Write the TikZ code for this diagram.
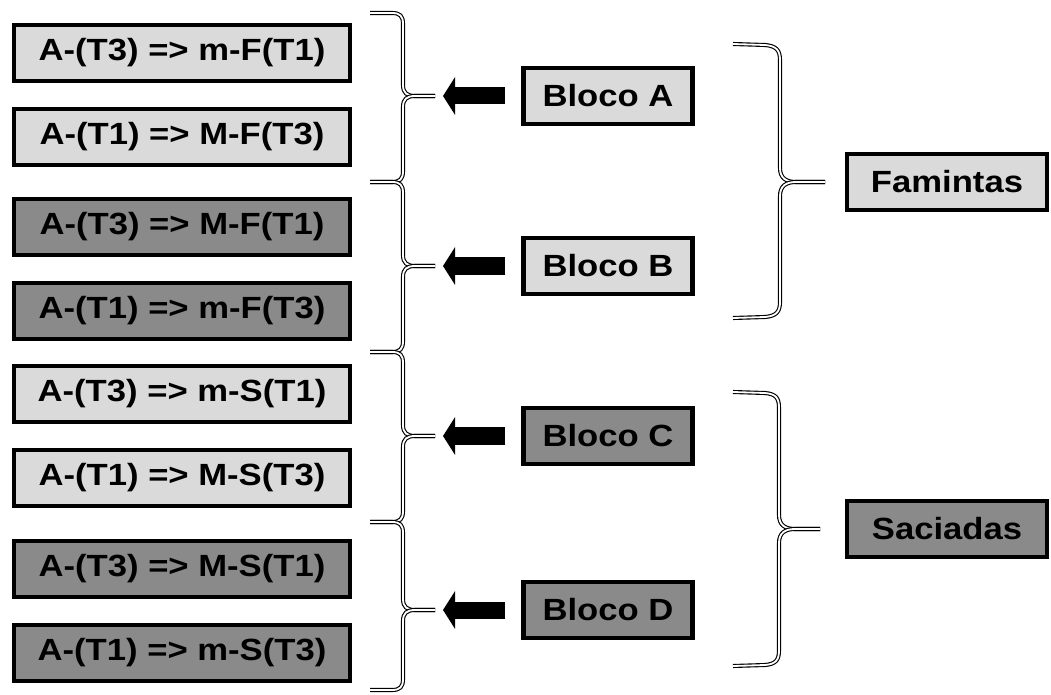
\documentclass[tikz,border=0pt]{standalone}
\usepackage{fontspec}
\setmainfont{Liberation Sans}[FakeStretch=1.13]
\usetikzlibrary{arrows.meta}
\definecolor{clara}{RGB}{218,218,218}
\definecolor{escura}{RGB}{138,138,138}
\begin{document}
\begin{tikzpicture}[x=0.025cm, y=-0.025cm, node distance={2.1cm}]
            \tikzstyle{caixa} = [draw=black, line width=2.9pt, inner sep=0pt, minimum height=1.4cm, font=\fontsize{21.8pt}{26pt}\selectfont\bfseries]
            \tikzstyle{cond} = [caixa, minimum width=8.4cm]
            \tikzstyle{bloco} = [caixa, minimum width=4.225cm]
            \tikzstyle{grupo} = [caixa, minimum width=5cm]
            \tikzstyle{chave} = [draw=black, line width=0.8pt, double=white, double distance=1.3pt]
            \tikzstyle{seta} = [line width=0.425cm, -{Triangle[length=0.3cm, width=0.93cm]}, shorten <=0.4cm, shorten >=0.2cm]

            \useasboundingbox (0,0) rectangle (1051,695);

            \node[cond, fill=clara] (c1) at (182,53) {A-(T3) => m-F(T1)};
            \node[cond, fill=clara] (c2) [below of = c1] {A-(T1) => M-F(T3)};
            \node[cond, fill=escura] (c3) at (182,227) {A-(T3) => M-F(T1)};
            \node[cond, fill=escura] (c4) [below of = c3] {A-(T1) => m-F(T3)};
            \node[cond, fill=clara] (c5) at (182,394) {A-(T3) => m-S(T1)};
            \node[cond, fill=clara] (c6) [below of = c5] {A-(T1) => M-S(T3)};
            \node[cond, fill=escura] (c7) at (182,569) {A-(T3) => M-S(T1)};
            \node[cond, fill=escura] (c8) [below of = c7] {A-(T1) => m-S(T3)};

            \node[bloco, fill=clara] (ba) at (608,96) {Bloco A};
            \node[bloco, fill=clara] (bb) at (608,266) {Bloco B};
            \node[bloco, fill=escura] (bc) at (608,436) {Bloco C};
            \node[bloco, fill=escura] (bd) at (608,610) {Bloco D};

            \node[grupo, fill=clara] (fam) at (947,182) {Famintas};
            \node[grupo, fill=escura] (sac) at (947,529) {Saciadas};

            % pontas das chaves
            \coordinate (pa) at (435,96);
            \coordinate (pb) at (435,266);
            \coordinate (pc) at (435,436);
            \coordinate (pd) at (435,610);

            % chaves da esquerda
            \draw[chave] (370,13) -- (392,13) .. controls (400,13) and (403,16) .. (403,24) -- (403,85) .. controls (403,93) and (407,96) .. (415,96) -- (pa);
            \draw[chave] (370,182) -- (392,182) .. controls (400,182) and (403,179) .. (403,171) -- (403,107) .. controls (403,99) and (407,96) .. (415,96) -- (pa);
            \draw[chave] (370,182) -- (392,182) .. controls (400,182) and (403,185) .. (403,193) -- (403,255) .. controls (403,263) and (407,266) .. (415,266) -- (pb);
            \draw[chave] (370,352) -- (392,352) .. controls (400,352) and (403,349) .. (403,341) -- (403,277) .. controls (403,269) and (407,266) .. (415,266) -- (pb);
            \draw[chave] (370,352) -- (392,352) .. controls (400,352) and (403,355) .. (403,363) -- (403,425) .. controls (403,433) and (407,436) .. (415,436) -- (pc);
            \draw[chave] (370,522) -- (392,522) .. controls (400,522) and (403,519) .. (403,511) -- (403,447) .. controls (403,439) and (407,436) .. (415,436) -- (pc);
            \draw[chave] (370,522) -- (392,522) .. controls (400,522) and (403,525) .. (403,533) -- (403,599) .. controls (403,607) and (407,610) .. (415,610) -- (pd);
            \draw[chave] (370,690) -- (392,690) .. controls (400,690) and (403,687) .. (403,679) -- (403,621) .. controls (403,613) and (407,610) .. (415,610) -- (pd);

            % chaves da direita
            \draw[chave] (733,44) -- (765,45) .. controls (776,46) and (780,50) .. (780,60) -- (780,168) .. controls (780,178) and (786,182) .. (796,182) -- (825,182);
            \draw[chave] (733,318) -- (765,317) .. controls (776,316) and (780,312) .. (780,302) -- (780,196) .. controls (780,186) and (786,182) .. (796,182) -- (825,182);
            \draw[chave] (733,392) -- (765,393) .. controls (776,394) and (779,398) .. (779,408) -- (779,515) .. controls (779,525) and (785,529) .. (795,529) -- (820,529);
            \draw[chave] (733,666) -- (765,665) .. controls (776,664) and (779,660) .. (779,650) -- (779,543) .. controls (779,533) and (785,529) .. (795,529) -- (820,529);

            % setas
            \draw[seta] (ba.west) -- (pa);
            \draw[seta] (bb.west) -- (pb);
            \draw[seta] (bc.west) -- (pc);
            \draw[seta] (bd.west) -- (pd);
        \end{tikzpicture}
\end{document}
